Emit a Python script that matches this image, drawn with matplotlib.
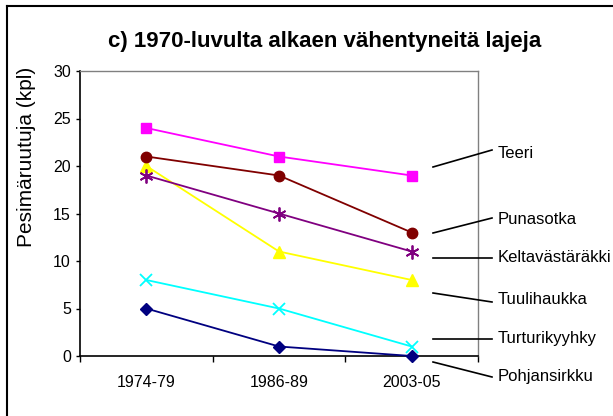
import matplotlib.pyplot as plt
from matplotlib.lines import Line2D

plt.rcParams['font.family'] = ['Liberation Sans', 'DejaVu Sans']

# Aineisto
jaksot = ['1974-79', '1986-89', '2003-05']
lajit = ['Teeri', 'Punasotka', 'Keltavästäräkki', 'Tuulihaukka', 'Turturikyyhky', 'Pohjansirkku']
teeri = [24, 21, 19]
punasotka = [21, 19, 13]
keltavastarakki = [19, 15, 11]
tuulihaukka = [20, 11, 8]
turturikyyhky = [8, 5, 1]
pohjansirkku = [5, 1, 0]
arvot = [teeri, punasotka, keltavastarakki, tuulihaukka, turturikyyhky, pohjansirkku]

# Tyylit
varit = ['#FF00FF', '#800000', '#800080', '#FFFF00', '#00FFFF', '#000080']
merkit = ['s', 'o', (6, 2, 0), '^', 'x', 'D']
koot = [7.5, 7.5, 10, 8.5, 9, 6.5]

W, H = 613, 416
fig = plt.figure(figsize=(W / 100, H / 100), dpi=100)
ax = fig.add_axes([80 / W, 1 - 356 / H, (478 - 80) / W, (356 - 71) / H])

x = list(range(len(jaksot)))
# piirretään alimmasta ylimpään, jotta järjestys menee kuten Excelissä
for nimi, y, c, m, s in reversed(list(zip(lajit, arvot, varit, merkit, koot))):
    mew = 1.3 if m in ['x', (6, 2, 0)] else 1
    ax.plot(x, y, color=c, marker=m, markersize=s, lw=1.3,
            markeredgewidth=mew, clip_on=False, zorder=3)

ax.set_xlim(-0.5, 2.5)
ax.set_ylim(0, 30)
ax.set_yticks(range(0, 31, 5))
ax.set_xticks(x)
ax.set_xticklabels(jaksot)
ax.set_xticks([-0.5, 0.5, 1.5, 2.5], minor=True)
ax.tick_params(axis='x', which='major', length=0, pad=14, labelsize=11.5)
ax.tick_params(axis='x', which='minor', length=4, direction='out', width=1)
ax.tick_params(axis='y', length=3, direction='out', width=1, pad=3.5, labelsize=11.5)

for sp in ['top', 'right']:
    ax.spines[sp].set_color('#808080')
    ax.spines[sp].set_linewidth(1)
for sp in ['left', 'bottom']:
    ax.spines[sp].set_color('black')
    ax.spines[sp].set_linewidth(1.2)

fig.text(325 / W, 1 - 42 / H, 'c) 1970-luvulta alkaen vähentyneitä lajeja',
         ha='center', va='center', fontsize=16, fontweight='bold')
fig.text(27 / W, 1 - 157 / H, 'Pesimäruutuja (kpl)', rotation=90,
         ha='center', va='center', fontsize=15)

# Nimilaput ja johtoviivat (kuvan pikseleinä)
lappu_y = [154, 220, 258, 299, 338, 376]
viiva_alku = [167, 233, 258, 293, 339, 362]
viiva_loppu = [150, 218, 258, 302, 339, 377]
for nimi, ty, y0, y1 in zip(lajit, lappu_y, viiva_alku, viiva_loppu):
    fig.add_artist(Line2D([433 / W, 492 / W], [1 - y0 / H, 1 - y1 / H],
                          color='black', lw=1.2))
    fig.text(498 / W, 1 - ty / H, nimi, ha='left', va='center', fontsize=12)

# Kehys
fig.add_artist(Line2D([7 / W, 7 / W], [0, 1 - 6 / H], color='black', lw=1.5))
fig.add_artist(Line2D([7 / W, 1], [1 - 6 / H, 1 - 6 / H], color='black', lw=1.5))

fig.savefig('out.png', dpi=100)
